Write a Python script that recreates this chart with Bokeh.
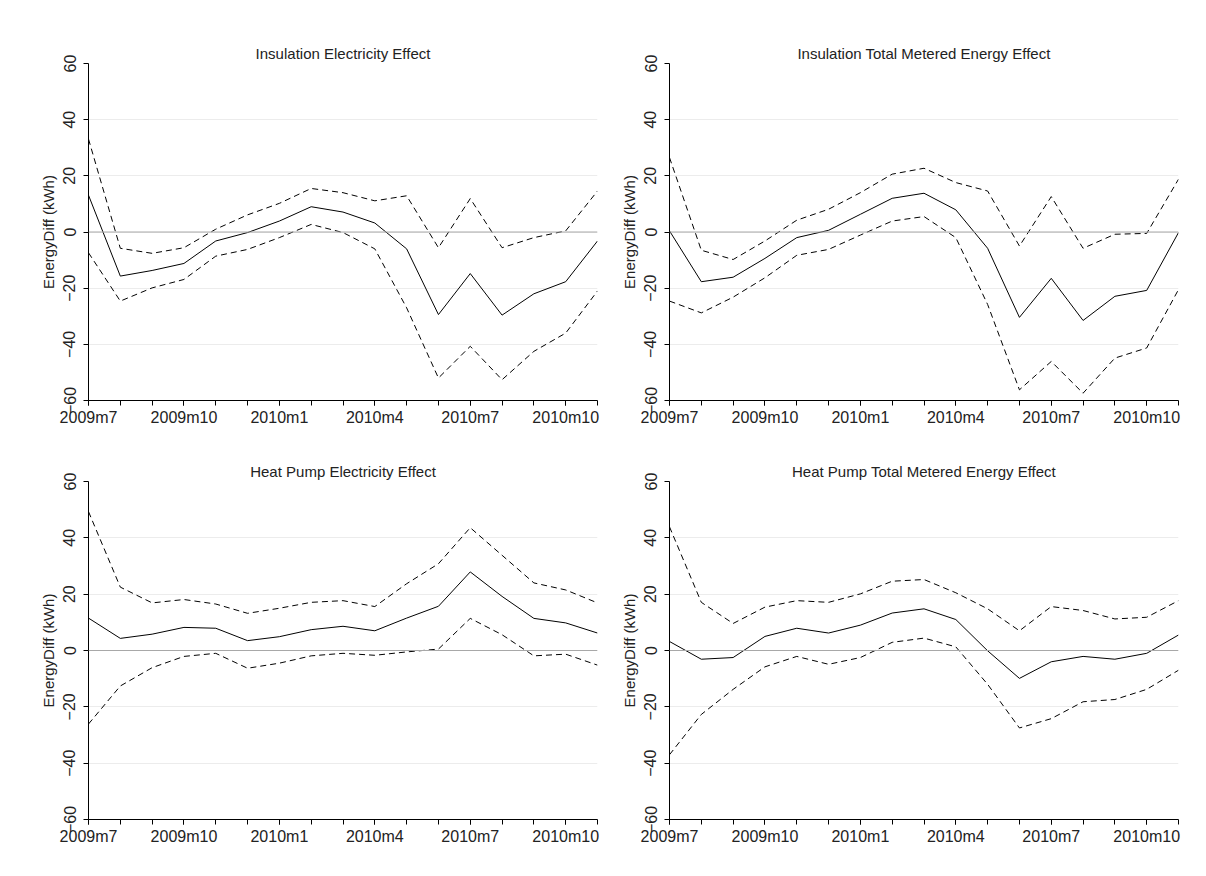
from bokeh.plotting import figure
from bokeh.layouts import column, row
from bokeh.models import FixedTicker, Span, Range1d
from bokeh.embed import file_html
from bokeh.resources import INLINE

months = ["2009m7", "2009m8", "2009m9", "2009m10", "2009m11", "2009m12",
          "2010m1", "2010m2", "2010m3", "2010m4", "2010m5", "2010m6",
          "2010m7", "2010m8", "2010m9", "2010m10", "2010m11"]
tick_months = ["2009m7", "2009m10", "2010m1", "2010m4", "2010m7", "2010m10"]
y_ticks = [-60, -40, -20, 0, 20, 40, 60]

titles = ["Insulation Electricity Effect", "Insulation Total Metered Energy Effect",
          "Heat Pump Electricity Effect", "Heat Pump Total Metered Energy Effect"]

# Insulation electricity
ins_elec_est = [13.1, -15.7, -13.7, -11.2, -3.2, -0.2, 3.9, 9.0, 7.1, 3.2, -6.0, -29.4, -14.8, -29.6, -22.0, -17.7, -3.2]
ins_elec_hi = [33.1, -5.8, -7.6, -5.6, 1.0, 6.1, 10.2, 15.5, 14.0, 11.1, 12.9, -5.6, 11.9, -5.6, -2.0, 0.4, 14.6]
ins_elec_lo = [-7.4, -24.6, -19.9, -16.9, -8.6, -6.2, -2.0, 2.7, -0.2, -6.0, -27.0, -52.0, -40.7, -52.6, -42.5, -36.0, -21.0]

# Insulation total metered energy
ins_tot_est = [0.4, -17.7, -16.1, -9.4, -2.0, 0.6, 6.3, 12.0, 13.8, 7.9, -5.8, -30.4, -16.5, -31.5, -22.9, -20.8, -0.2]
ins_tot_hi = [26.5, -6.5, -9.8, -3.2, 4.2, 8.1, 14.0, 20.6, 22.7, 17.6, 14.6, -5.0, 12.6, -5.8, -0.8, -0.5, 18.8]
ins_tot_lo = [-24.6, -28.8, -23.2, -16.3, -8.3, -6.2, -1.1, 3.9, 5.5, -2.0, -25.8, -56.2, -46.1, -57.4, -44.9, -41.3, -20.5]

# Heat pump electricity
hp_elec_est = [11.5, 4.3, 5.8, 8.2, 7.9, 3.5, 4.9, 7.4, 8.6, 7.0, 11.5, 15.7, 27.9, 19.2, 11.4, 9.8, 6.2]
hp_elec_hi = [49.3, 22.5, 16.9, 18.1, 16.5, 13.2, 15.0, 17.1, 17.7, 15.6, 23.7, 30.8, 43.6, 33.8, 24.0, 21.5, 16.9]
hp_elec_lo = [-26.1, -12.6, -6.1, -2.1, -1.0, -6.3, -4.5, -1.9, -1.0, -1.7, -0.5, 0.5, 11.4, 5.6, -1.9, -1.3, -5.2]

# Heat pump total metered energy
hp_tot_est = [3.2, -3.1, -2.5, 5.0, 7.9, 6.2, 9.0, 13.3, 14.8, 11.0, -0.1, -9.9, -4.0, -2.1, -3.1, -1.0, 5.5]
hp_tot_hi = [43.9, 17.1, 9.6, 15.4, 17.7, 17.1, 20.1, 24.6, 25.2, 20.5, 14.8, 7.0, 15.6, 14.2, 11.2, 11.8, 17.7]
hp_tot_lo = [-37.0, -22.7, -13.8, -5.8, -2.1, -4.9, -2.5, 2.9, 4.4, 1.3, -12.0, -27.5, -24.2, -18.2, -17.4, -13.8, -7.0]

FONT = "Liberation Sans"
TITLE_FS = "15px"
TICK_FS = "16px"


def make_panel(title, est, hi, lo, bl, br, bt, bb, fh):
    x = list(range(len(months)))
    p = figure(frame_width=509, frame_height=fh,
               x_range=Range1d(0, len(months) - 1), y_range=Range1d(-60, 60),
               output_backend="svg", toolbar_location=None,
               min_border_left=bl, min_border_right=br,
               min_border_top=bt, min_border_bottom=bb)
    p.outline_line_color = None
    p.background_fill_color = "white"
    p.border_fill_color = "white"

    p.title.text = title
    p.title.align = "center"
    p.title.text_font = FONT
    p.title.text_font_size = TITLE_FS
    p.title.text_font_style = "normal"
    p.title.text_color = "#222222"
    p.title.standoff = 3

    tick_idx = [months.index(m) for m in tick_months]
    p.xaxis.ticker = FixedTicker(ticks=tick_idx, minor_ticks=x)
    p.xaxis.major_label_overrides = {i: months[i] for i in tick_idx}
    p.yaxis.ticker = FixedTicker(ticks=y_ticks, minor_ticks=[])
    p.yaxis.major_label_orientation = "vertical"
    p.yaxis.axis_label = "EnergyDiff (kWh)"
    p.yaxis.axis_label_text_font = FONT
    p.yaxis.axis_label_text_font_size = TITLE_FS
    p.yaxis.axis_label_text_font_style = "normal"
    p.yaxis.axis_label_text_color = "#222222"
    p.yaxis.axis_label_standoff = 4

    for ax in (p.xaxis[0], p.yaxis[0]):
        ax.axis_line_color = "black"
        ax.major_tick_line_color = "black"
        ax.minor_tick_line_color = "black"
        ax.major_tick_out = 5
        ax.major_tick_in = 0
        ax.minor_tick_out = 5
        ax.minor_tick_in = 0
        ax.major_label_text_font = FONT
        ax.major_label_text_font_size = TICK_FS
        ax.major_label_text_color = "#222222"
    p.xaxis.major_label_standoff = 3
    p.yaxis.major_label_standoff = 8

    p.xgrid.grid_line_color = None
    p.ygrid.grid_line_color = "#ececec"

    p.add_layout(Span(location=0, dimension="width", line_color="#a8a8a8", line_width=1))

    p.line(x, hi, line_color="black", line_width=1, line_dash="6 4")
    p.line(x, lo, line_color="black", line_width=1, line_dash="6 4")
    p.line(x, est, line_color="black", line_width=1)
    return p


p1 = make_panel(titles[0], ins_elec_est, ins_elec_hi, ins_elec_lo, 88, 20, 63, 28, 337)
p2 = make_panel(titles[1], ins_tot_est, ins_tot_hi, ins_tot_lo, 52, 12, 63, 28, 337)
p3 = make_panel(titles[2], hp_elec_est, hp_elec_hi, hp_elec_lo, 88, 20, 53, 28, 338)
p4 = make_panel(titles[3], hp_tot_est, hp_tot_hi, hp_tot_lo, 52, 12, 53, 28, 338)

layout = column(row(p1, p2), row(p3, p4))

open("out.html", "w").write(file_html(layout, INLINE))
